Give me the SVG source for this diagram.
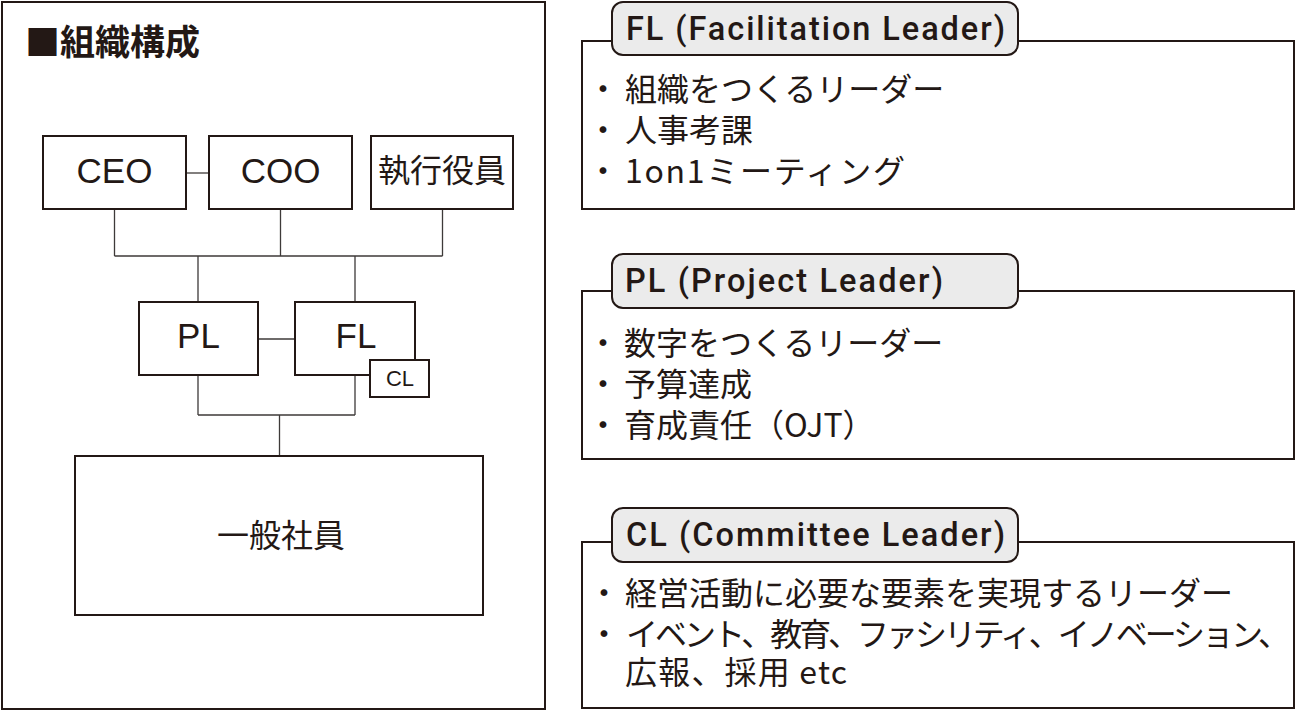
<svg xmlns="http://www.w3.org/2000/svg" width="1296" height="712" viewBox="0 0 1296 712">
<style>
.bx{fill:#fff;stroke:#231815;stroke-width:2}
.cn{fill:none;stroke:#3e3a39;stroke-width:1.3}
.tab{fill:#ebebeb;stroke:#231815;stroke-width:2}
.jp{font-family:"Noto Sans CJK JP","Noto Sans",sans-serif;fill:#231815}
.lt{font-family:"Liberation Sans",Arial,sans-serif;fill:#231815}
.tt{font-family:Roboto,"Liberation Sans",Arial,sans-serif;font-weight:500;fill:#231815;font-size:32.5px}
.body{font-size:32px}
</style>
<rect width="1296" height="712" fill="#fff"/>
<g id="panel">
<rect class="bx" x="2" y="2" width="543" height="707"/>
<text class="jp" x="25" y="55" font-size="35" font-weight="700">■組織構成</text>
</g>
<g id="connectors">
<line class="cn" x1="186" y1="173" x2="209" y2="173"/>
<path class="cn" d="M114.5 209V256M280.5 209V256M442.5 209V256M114.5 256H442.5"/>
<path class="cn" d="M198 256V302M355 256V302"/>
<line class="cn" x1="258" y1="339" x2="295" y2="339"/>
<path class="cn" d="M198 375V415M355 375V415M198 415H355M279.5 415V456"/>
</g>
<g id="ceo">
<rect class="bx" x="43" y="136" width="143" height="73"/>
<text class="lt" x="114.5" y="183" font-size="35" text-anchor="middle">CEO</text>
</g>
<g id="coo">
<rect class="bx" x="209" y="136" width="143" height="73"/>
<text class="lt" x="280.5" y="183" font-size="35" text-anchor="middle">COO</text>
</g>
<g id="exec">
<rect class="bx" x="371" y="136" width="142" height="73"/>
<text class="jp" x="442" y="182" font-size="32" text-anchor="middle">執行役員</text>
</g>
<g id="pl">
<rect class="bx" x="139" y="302" width="119" height="73"/>
<text class="lt" x="198.5" y="348" font-size="35" text-anchor="middle">PL</text>
</g>
<g id="fl">
<rect class="bx" x="295" y="302" width="120" height="73"/>
<text class="lt" x="356" y="348" font-size="35" text-anchor="middle">FL</text>
</g>
<g id="cl">
<rect class="bx" x="370" y="360" width="59" height="37"/>
<text class="lt" x="400" y="386" font-size="22" text-anchor="middle">CL</text>
</g>
<g id="staff">
<rect class="bx" x="75" y="456" width="408" height="159"/>
<text class="jp" x="281" y="547" font-size="32" text-anchor="middle">一般社員</text>
</g>
<g id="fl-card">
<rect class="bx" x="582" y="41" width="712" height="168"/>
<rect class="tab" x="612" y="2" width="406" height="53" rx="11"/>
<text class="tt" x="626" y="40" textLength="379" lengthAdjust="spacing">FL (Facilitation Leader)</text>
<text class="jp body"><tspan x="603" y="101" text-anchor="middle">・</tspan><tspan x="625" y="101">組織をつくるリーダー</tspan></text>
<text class="jp body"><tspan x="603" y="142" text-anchor="middle">・</tspan><tspan x="625" y="142">人事考課</tspan></text>
<text class="jp body"><tspan x="603" y="183" text-anchor="middle">・</tspan><tspan x="625" y="183" textLength="280" lengthAdjust="spacing">1on1ミーティング</tspan></text>
</g>
<g id="pl-card">
<rect class="bx" x="582" y="291" width="712" height="168"/>
<rect class="tab" x="612" y="254" width="406" height="54" rx="11"/>
<text class="tt" x="625" y="292" textLength="318" lengthAdjust="spacing">PL (Project Leader)</text>
<text class="jp body"><tspan x="603" y="355" text-anchor="middle">・</tspan><tspan x="624" y="355">数字をつくるリーダー</tspan></text>
<text class="jp body"><tspan x="603" y="396" text-anchor="middle">・</tspan><tspan x="624" y="396">予算達成</tspan></text>
<text class="jp body"><tspan x="603" y="437" text-anchor="middle">・</tspan><tspan x="624" y="437">育成責任（OJT）</tspan></text>
</g>
<g id="cl-card">
<rect class="bx" x="582" y="542" width="712" height="166"/>
<rect class="tab" x="612" y="508" width="406" height="54" rx="11"/>
<text class="tt" x="626" y="546" textLength="379" lengthAdjust="spacing">CL (Committee Leader)</text>
<text class="jp body"><tspan x="604" y="605" text-anchor="middle">・</tspan><tspan x="625" y="605">経営活動に必要な要素を実現するリーダー</tspan></text>
<text class="jp body"><tspan x="604" y="646" text-anchor="middle">・</tspan><tspan x="626" y="646" textLength="664" lengthAdjust="spacing">イベント、教育、ファシリティ、イノベーション、</tspan></text>
<text class="jp body" x="625" y="684" textLength="222" lengthAdjust="spacing">広報、採用 etc</text>
</g>
</svg>
